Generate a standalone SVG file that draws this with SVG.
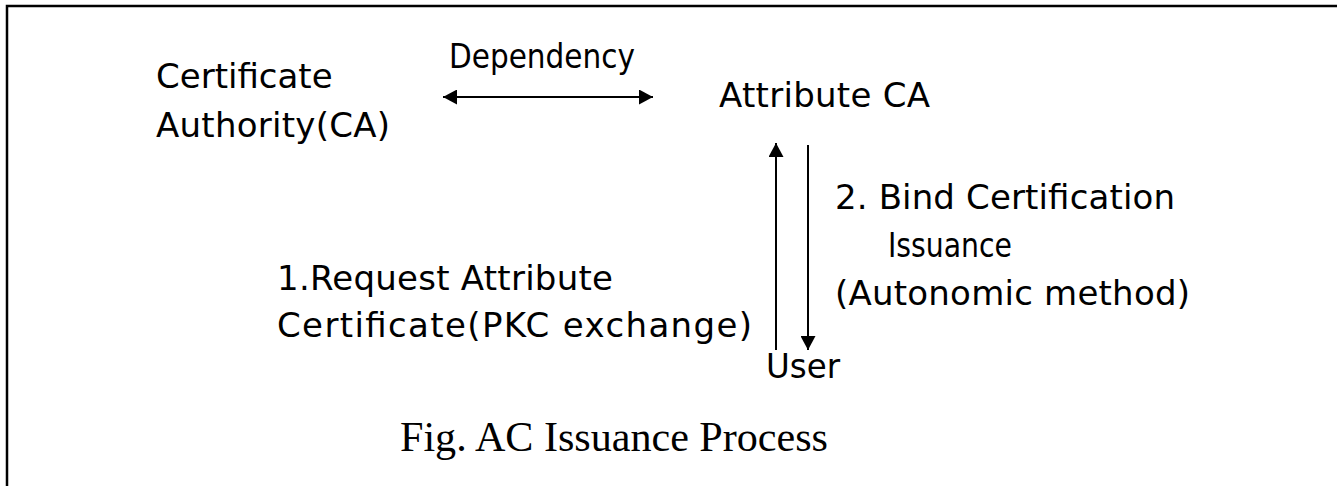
<svg xmlns="http://www.w3.org/2000/svg" width="1337" height="486" viewBox="0 0 1337 486">
<style>
.t{font-family:"DejaVu Sans","Liberation Sans",sans-serif;font-size:34px;fill:#000}
.cap{font-family:"Liberation Serif","Times New Roman",serif;font-size:43px;fill:#000}
.ln{stroke:#000;stroke-width:2;fill:none}
</style>
<defs>
<marker id="ah" viewBox="0 0 14 15" refX="14" refY="7.5" markerWidth="14" markerHeight="15" markerUnits="userSpaceOnUse" orient="auto-start-reverse">
<path d="M0,0 L14,7.5 L0,15 Z" fill="#000"/>
</marker>
</defs>
<rect width="1337" height="486" fill="#fff"/>
<path d="M7,486 L7,6 L1337,6" stroke="#000" stroke-width="2.5" fill="none"/>
<g id="ca"><text class="t" x="156" y="88">Certificate</text><text class="t" x="156" y="137" textLength="234" lengthAdjust="spacing">Authority(CA)</text></g>
<g id="attrca"><text class="t" x="719" y="107" textLength="211" lengthAdjust="spacing">Attribute CA</text></g>
<g id="user"><text class="t" x="766" y="378" textLength="74" lengthAdjust="spacingAndGlyphs">User</text></g>
<g id="connectors">
<line class="ln" x1="443" y1="97" x2="653" y2="97" marker-start="url(#ah)" marker-end="url(#ah)"/>
<line class="ln" x1="776" y1="350" x2="776" y2="143" marker-end="url(#ah)"/>
<line class="ln" x1="808" y1="145" x2="808" y2="350" marker-end="url(#ah)"/>
<text class="t" x="449" y="68" textLength="186" lengthAdjust="spacingAndGlyphs">Dependency</text>
<text class="t" x="277" y="290" textLength="336" lengthAdjust="spacing">1.Request Attribute</text>
<text class="t" x="277" y="337" textLength="475" lengthAdjust="spacing">Certificate(PKC exchange)</text>
<text class="t" x="835" y="209" textLength="340" lengthAdjust="spacing">2. Bind Certification</text>
<text class="t" x="888" y="257" textLength="124" lengthAdjust="spacingAndGlyphs">Issuance</text>
<text class="t" x="835" y="305" textLength="355" lengthAdjust="spacing">(Autonomic method)</text>
</g>
<text class="cap" x="400" y="451" textLength="428" lengthAdjust="spacingAndGlyphs">Fig. AC Issuance Process</text>
</svg>
